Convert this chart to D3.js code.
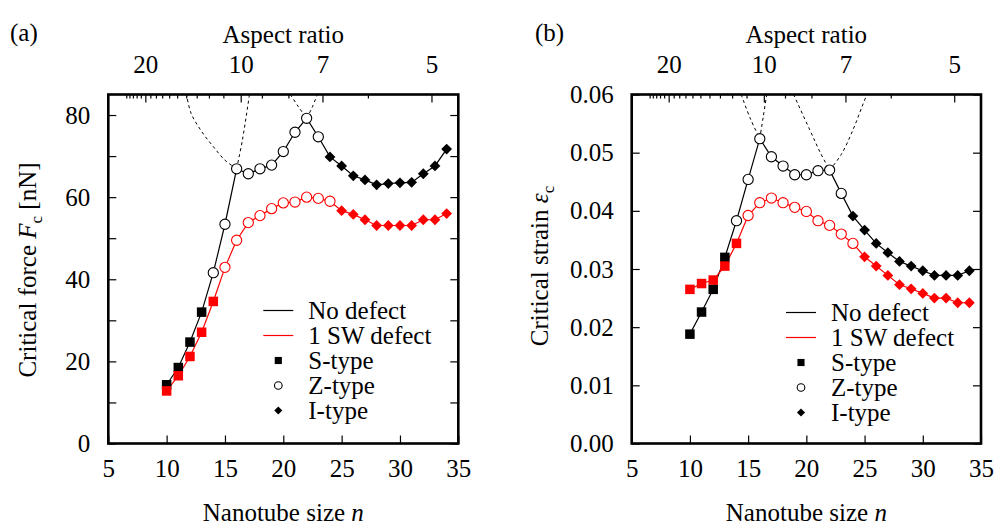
<!DOCTYPE html>
<html>
<head>
<meta charset="utf-8">
<script src="https://cdn.jsdelivr.net/npm/d3@7"></script>
<style>
  body { margin: 0; background: #fff; }
  svg { display: block; }
</style>
</head>
<body>
<svg id="chart" width="1007" height="525"></svg>
<script>
// Nanotube size n (zigzag index) of every simulated tube
const nanotubeSizes = [10, 11, 12, 13, 14, 15, 16, 17, 18, 19, 20, 21, 22,
                       23, 24, 25, 26, 27, 28, 29, 30, 31, 32, 33, 34];

// Critical force F_c [nN]
const forceNoDefect = [14.3, 18.5, 24.7, 32.0, 41.6, 53.4, 66.9, 65.7, 66.9, 67.8, 71.1, 75.8, 79.2,
                       74.7, 69.8, 67.6, 65.2, 64.2, 63.0, 63.3, 63.5, 63.6, 65.7, 67.6, 71.7];
const forceOneSW    = [12.8, 16.5, 21.2, 27.1, 34.6, 42.9, 49.5, 53.8, 55.5, 57.2, 58.6, 58.8, 60.0,
                       59.7, 59.0, 56.7, 55.8, 54.5, 53.1, 53.1, 53.1, 53.1, 54.5, 54.5, 56.0];

// Critical strain eps_c
const strainNoDefect = [0.0188, 0.0226, 0.0265, 0.0320, 0.0383, 0.0454, 0.0524, 0.0493, 0.0477, 0.0462, 0.0462, 0.0469, 0.0470,
                        0.0430, 0.0391, 0.0367, 0.0344, 0.0328, 0.0313, 0.0305, 0.0297, 0.0289, 0.0289, 0.0289, 0.0297];
const strainOneSW    = [0.0265, 0.0275, 0.0281, 0.0305, 0.0344, 0.0392, 0.0414, 0.0422, 0.0414, 0.0406, 0.0399, 0.0383, 0.0375,
                        0.0360, 0.0344, 0.0321, 0.0305, 0.0289, 0.0273, 0.0266, 0.0258, 0.0250, 0.0250, 0.0242, 0.0242];

// Buckling mode of each tube: S-, Z- or I-type
const modeNoDefect = ["S", "S", "S", "S", "Z", "Z", "Z", "Z", "Z", "Z", "Z", "Z", "Z",
                      "Z", "I", "I", "I", "I", "I", "I", "I", "I", "I", "I", "I"];
const modeOneSW    = ["S", "S", "S", "S", "S", "Z", "Z", "Z", "Z", "Z", "Z", "Z", "Z",
                      "Z", "Z", "I", "I", "I", "I", "I", "I", "I", "I", "I", "I"];

// Extrapolated branches of the defect-free curves (dashed), [n, value]
const forceGuides = [
  [[16, 66.9], [15, 69.0], [14, 72.3], [13, 76.0], [12.1, 80.4], [11.7, 85]],
  [[16, 66.9], [16.5, 74.0], [17.1, 85]],
  [[20.6, 85], [21.3, 82.0], [22, 79.2]],
  [[22, 79.2], [22.5, 82.0], [22.9, 85]]
];
const strainGuides = [
  [[14.4, 0.060], [15.2, 0.0558], [16, 0.0524]],
  [[16, 0.0524], [16.3, 0.0562], [16.6, 0.060]],
  [[18.9, 0.060], [20.3, 0.0539], [21.2, 0.0500], [22, 0.0470]],
  [[22, 0.0470], [23, 0.0497], [24, 0.0539], [24.8, 0.0580], [25.2, 0.060]]
];

// Axis ticks
const sizeTicks = [5, 10, 15, 20, 25, 30, 35];
const forceTicks = [0, 10, 20, 30, 40, 50, 60, 70, 80];
const forceTickLabels = [0, 20, 40, 60, 80];
const strainTicks = [0, 0.01, 0.02, 0.03, 0.04, 0.05, 0.06];
const aspectTicks = [5, 6, 7, 8, 9, 10, 11, 12, 13, 14, 15, 16, 17, 18, 19, 20, 21, 22, 23, 24, 25];
const aspectTickLabels = [5, 7, 10, 20];
const aspectTimesSize = 163.5;   // aspect ratio × n for the fixed tube length

const legendEntries = ["No defect", "1 SW defect", "S-type", "Z-type", "I-type"];

const RED = "#ff0000";
const FONT = "Liberation Serif";
const FS = 25;
const svg = d3.select("#chart");

function styleText(sel, size) {
  return sel.attr("font-family", FONT).attr("font-size", size || FS).attr("fill", "#000");
}

function drawPanel(cfg) {
  const x = d3.scaleLinear().domain([5, 35]).range([cfg.left, cfg.right]);
  const y = d3.scaleLinear().domain(cfg.yDomain).range([cfg.bottom, cfg.top]);
  const g = svg.append("g");

  const clipId = "clip-" + cfg.id;
  g.append("clipPath").attr("id", clipId)
    .append("rect")
    .attr("x", cfg.left).attr("y", cfg.top)
    .attr("width", cfg.right - cfg.left).attr("height", cfg.bottom - cfg.top);

  // bottom axis (ticks inward)
  const bottomAxis = d3.axisBottom(x).tickValues(sizeTicks).tickSizeInner(-8).tickSizeOuter(0).tickPadding(16);
  const gb = g.append("g").attr("transform", `translate(0,${cfg.bottom})`).call(bottomAxis);
  // left axis
  const leftAxis = d3.axisLeft(y).tickValues(cfg.yTicks).tickSizeInner(-8).tickSizeOuter(0).tickPadding(18)
    .tickFormat(d => cfg.yLabels.some(v => Math.abs(v - d) < 1e-9) ? cfg.yFormat(d) : "");
  const gl = g.append("g").attr("transform", `translate(${cfg.left},0)`).call(leftAxis);
  // right axis (mirrored ticks)
  const rightAxis = d3.axisRight(y).tickValues(cfg.yTicks).tickSizeInner(-8).tickSizeOuter(0).tickFormat("");
  const gr = g.append("g").attr("transform", `translate(${cfg.right},0)`).call(rightAxis);
  // top axis: aspect ratio
  const topAxis = d3.axisTop(x).tickValues(aspectTicks.map(a => aspectTimesSize / a))
    .tickSizeOuter(0).tickPadding(16)
    .tickFormat((d, i) => aspectTickLabels.includes(aspectTicks[i]) ? aspectTicks[i] : "");
  const gt = g.append("g").attr("transform", `translate(0,${cfg.top})`).call(topAxis);
  gt.selectAll(".tick line").attr("y2", (d, i) => aspectTickLabels.includes(aspectTicks[i]) ? 8 : 4);

  [gb, gl, gr, gt].forEach(a => {
    a.attr("font-family", FONT).attr("font-size", FS);
    a.select(".domain").remove();
    a.selectAll(".tick line").attr("stroke", "#000").attr("stroke-width", 1.2);
    styleText(a.selectAll("text"));
  });

  // dashed extrapolations
  const guideLine = d3.line().x(d => x(d[0])).y(d => y(d[1])).curve(d3.curveCatmullRom);
  g.append("g").attr("clip-path", `url(#${clipId})`)
    .selectAll("path").data(cfg.guides).join("path")
    .attr("d", guideLine).attr("fill", "none").attr("stroke", "#000")
    .attr("stroke-width", 1).attr("stroke-dasharray", "3,3");

  // solid data lines
  const series = [
    { values: cfg.noDefect, modes: modeNoDefect, color: "#000" },
    { values: cfg.oneSW, modes: modeOneSW, color: RED }
  ];
  const dataLine = d3.line().x((d, i) => x(nanotubeSizes[i])).y(d => y(d));
  series.forEach(s => {
    g.append("path").datum(s.values).attr("d", dataLine)
      .attr("fill", "none").attr("stroke", s.color).attr("stroke-width", 1.2);
  });
  // markers
  series.forEach(s => {
    s.values.forEach((v, i) => drawMarker(g, s.modes[i], x(nanotubeSizes[i]), y(v), s.color, 1));
  });

  // frame
  g.append("rect").attr("x", cfg.left).attr("y", cfg.top)
    .attr("width", cfg.right - cfg.left).attr("height", cfg.bottom - cfg.top)
    .attr("fill", "none").attr("stroke", "#000").attr("stroke-width", 2.6);

  // axis titles
  const mid = (cfg.left + cfg.right) / 2;
  const xt = styleText(g.append("text")).attr("x", mid).attr("y", 521).attr("text-anchor", "middle");
  xt.append("tspan").text("Nanotube size ");
  xt.append("tspan").attr("font-style", "italic").text("n");
  styleText(g.append("text")).attr("x", mid).attr("y", 43).attr("text-anchor", "middle").text("Aspect ratio");
  styleText(g.append("text")).attr("x", cfg.tagX).attr("y", 41).text(cfg.tag);

  const yt = styleText(g.append("text")).attr("text-anchor", "middle")
    .attr("transform", `translate(${cfg.yTitleX},${cfg.yTitleY}) rotate(-90)`);
  yt.append("tspan").text(cfg.yTitle[0]);
  yt.append("tspan").attr("font-style", "italic").text(cfg.yTitle[1]);
  yt.append("tspan").attr("font-size", 17).attr("dy", 6).text("c");
  if (cfg.yTitle[2]) yt.append("tspan").attr("dy", -6).text(cfg.yTitle[2]);

  // legend
  const lx = cfg.right - 150;
  legendEntries.forEach((label, i) => {
    const by = cfg.legendTop + i * 25;
    styleText(g.append("text")).attr("x", lx).attr("y", by).text(label);
    const cy = by - 8.5;
    if (i < 2) {
      g.append("line").attr("x1", lx - 45).attr("x2", lx - 15).attr("y1", cy).attr("y2", cy)
        .attr("stroke", i === 0 ? "#000" : RED).attr("stroke-width", 1.2);
    } else {
      drawMarker(g, ["S", "Z", "I"][i - 2], lx - 30, cy, "#000", 0.75);
    }
  });
}

function drawMarker(g, mode, cx, cy, color, scale) {
  if (mode === "S") {
    const s = 9.5 * scale;
    g.append("rect").attr("x", cx - s / 2).attr("y", cy - s / 2).attr("width", s).attr("height", s).attr("fill", color);
  } else if (mode === "Z") {
    g.append("circle").attr("cx", cx).attr("cy", cy).attr("r", 5.1 * scale)
      .attr("fill", "#fff").attr("stroke", color).attr("stroke-width", 1.1);
  } else {
    const r = 5.4 * scale;
    g.append("path").attr("d", `M${cx},${cy - r}L${cx + r},${cy}L${cx},${cy + r}L${cx - r},${cy}Z`).attr("fill", color);
  }
}

drawPanel({
  id: "a", tag: "(a)", tagX: 10,
  left: 108.3, right: 458.3, top: 94.5, bottom: 443.5,
  yDomain: [0, 85], yTicks: forceTicks, yLabels: forceTickLabels, yFormat: d3.format("d"),
  noDefect: forceNoDefect, oneSW: forceOneSW, guides: forceGuides,
  yTitle: ["Critical force ", "F", " [nN]"], yTitleX: 36, yTitleY: 270,
  legendTop: 319
});
drawPanel({
  id: "b", tag: "(b)", tagX: 535,
  left: 631.7, right: 981, top: 94.5, bottom: 443.5,
  yDomain: [0, 0.06], yTicks: strainTicks, yLabels: strainTicks, yFormat: d3.format(".2f"),
  noDefect: strainNoDefect, oneSW: strainOneSW, guides: strainGuides,
  yTitle: ["Critical strain ", "ε", ""], yTitleX: 548, yTitleY: 266,
  legendTop: 321
});
</script>
</body>
</html>
